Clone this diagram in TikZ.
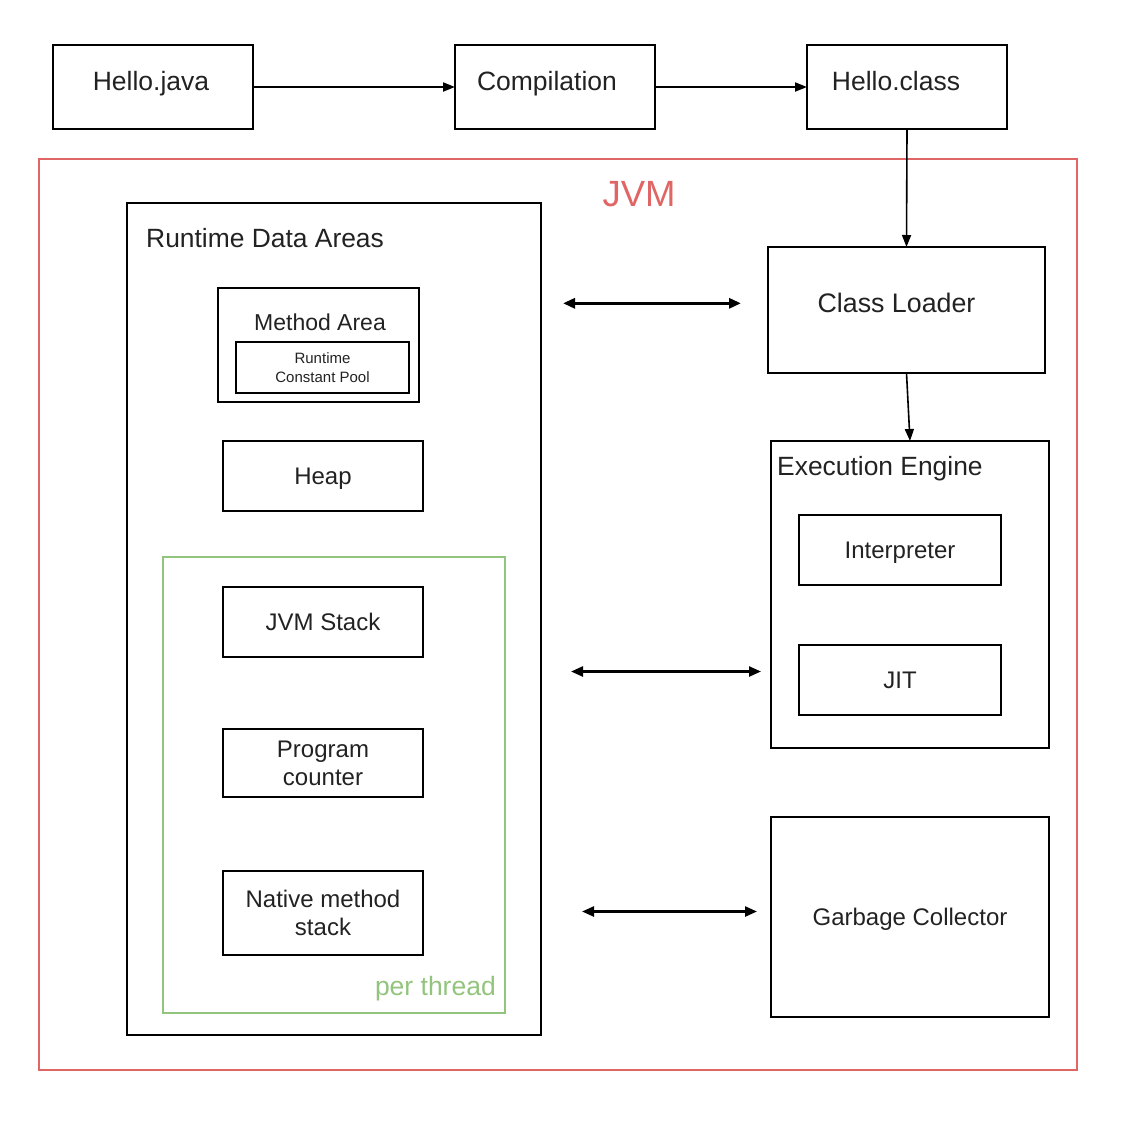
\documentclass[tikz,border=0pt]{standalone}
\usepackage{fontspec}
\setmainfont{Liberation Sans}
\usetikzlibrary{arrows.meta}
\definecolor{jvmred}{HTML}{E06666}
\definecolor{ptgreen}{HTML}{93C47D}
\definecolor{txt}{HTML}{222222}
\newcommand{\fs}[2]{\fontsize{#1}{#2}\selectfont}
\newcommand{\st}{\rule[-0.212em]{0pt}{1.117em}}
\tikzset{
  box/.style={draw=black, line width=2pt, inner sep=0pt, outer sep=0pt, text=txt, align=center, font=\fs{24}{28}},
  topbox/.style={box, minimum width=200pt, minimum height=84pt, font=\fs{26.5}{30}, text height=19pt, text depth=12.4pt},
  frame/.style={draw, inner sep=0pt, outer sep=0pt},
  ttl/.style={text=txt, inner sep=0pt, font=\fs{26.4}{30}},
  tip/.style={-{Triangle[length=12pt,width=9pt]}},
  dtip/.style={{Triangle[length=12pt,width=10pt]}-{Triangle[length=12pt,width=10pt]}, line width=3pt},
}
\begin{document}
\begin{tikzpicture}[x=1pt, y=-1pt]
\useasboundingbox (0,0) rectangle (1126,1122);
% top row
\node[topbox] (hj) at (153,87) {Hello.java\hspace{4pt}};
\node[topbox] (comp) at (555,87) {Compilation\hspace{16pt}};
\node[topbox] (hc) at (907,87) {Hello.class\hspace{22pt}};
% JVM frame
\node[frame, draw=jvmred, line width=1.6pt, minimum width=1038pt, minimum height=911pt] (jvm) at (558,614.5) {};
\node[text=jvmred, inner sep=0pt, font=\fs{36.5}{40}, anchor=base] (jvmlbl) at (639,206.7) {JVM};
% runtime data areas
\node[box, minimum width=414pt, minimum height=832pt] (rda) at (334,619) {};
\node[ttl, anchor=base west] (rdalbl) at (146,247) {Runtime Data Areas};
\node[box, minimum width=201pt, minimum height=114pt] (ma) at (318.5,345) {};
\node[ttl, font=\fs{23}{27}, anchor=base] (malbl) at (320,330) {Method Area};
\node[box, minimum width=173pt, minimum height=51pt, font=\fs{15}{19}] (rcp) at (322.5,367.5) {\st Runtime\\\st Constant Pool};
\node[box, minimum width=200pt, minimum height=70pt] (heap) at (323,476) {\st Heap};
\node[frame, draw=ptgreen, line width=1.8pt, minimum width=342pt, minimum height=456pt] (pt) at (334,785) {};
\node[text=ptgreen, inner sep=0pt, font=\fs{26.5}{30}, anchor=base east] (ptlbl) at (496,995) {per thread};
\node[box, minimum width=200pt, minimum height=70pt] (jvms) at (323,622) {\st JVM Stack};
\node[box, minimum width=200pt, minimum height=68pt] (pc) at (323,763) {\st Program\\\st counter};
\node[box, minimum width=200pt, minimum height=84pt] (nms) at (323,913) {\st Native method\\\st stack};
% right column
\node[box, minimum width=277pt, minimum height=126pt, font=\fs{26.8}{30}, text height=19.2pt, text depth=14.6pt] (cl) at (906.5,310) {Class Loader\hspace{20pt}};
\node[box, minimum width=278pt, minimum height=307pt] (ee) at (910,594.5) {};
\node[ttl, anchor=base west] (eelbl) at (777,475) {Execution Engine};
\node[box, minimum width=202pt, minimum height=70pt] (interp) at (900,550) {\st Interpreter};
\node[box, minimum width=202pt, minimum height=70pt] (jit) at (900,680) {\st JIT};
\node[box, minimum width=278pt, minimum height=200pt] (gc) at (910,917) {\st Garbage Collector};
% connectors
\draw[tip, line width=2pt] (hj) -- (comp);
\draw[tip, line width=2pt] (comp) -- (hc);
\draw[tip, line width=1.6pt] (hc.south) -- (cl.north);
\draw[tip, line width=1.6pt] (cl.south) -- (ee.north);
\coordinate (a1l) at (563,303.3);
\coordinate (a1r) at (741,303.3);
\coordinate (a2l) at (571,671.5);
\coordinate (a2r) at (761,671.5);
\coordinate (a3l) at (582,911.5);
\coordinate (a3r) at (757,911.5);
\draw[dtip] (a1l) -- (a1r);
\draw[dtip, line width=2.4pt] (a2l) -- (a2r);
\draw[dtip, line width=2.4pt] (a3l) -- (a3r);
\end{tikzpicture}
\end{document}
